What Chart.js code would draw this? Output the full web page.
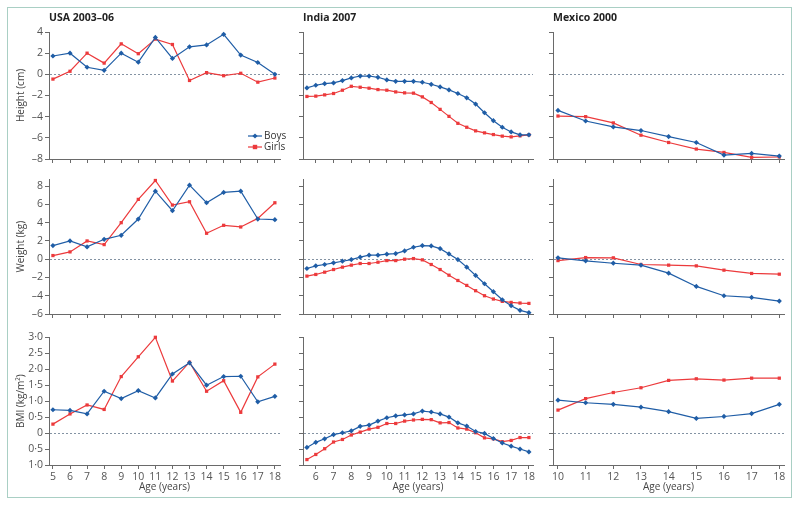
<!DOCTYPE html>
<html>
<head>
<meta charset="utf-8">
<script src="https://cdn.jsdelivr.net/npm/chart.js@4/dist/chart.umd.min.js"></script>
<style>
  html, body { margin: 0; padding: 0; background: #fff; }
  #wrap { position: relative; width: 800px; height: 506px; overflow: hidden; }
  #frame { position: absolute; left: 7px; top: 7px; width: 785px; height: 491px; border: 1px solid #a9cfc4; box-sizing: border-box; }
  canvas { position: absolute; }
</style>
</head>
<body>
<div id="wrap"><div id="frame"></div></div>
<script>
// ---------- DATA ----------
const usaAges = [5, 6, 7, 8, 9, 10, 11, 12, 13, 14, 15, 16, 17, 18];
const indiaAges = [5.5, 6, 6.5, 7, 7.5, 8, 8.5, 9, 9.5, 10, 10.5, 11, 11.5, 12, 12.5, 13, 13.5, 14, 14.5, 15, 15.5, 16, 16.5, 17, 17.5, 18];
const mexicoAges = [10, 11, 12, 13, 14, 15, 16, 17, 18];

const usaHeightBoys  = [1.73, 2.0, 0.67, 0.38, 2.0, 1.15, 3.49, 1.5, 2.6, 2.78, 3.78, 1.82, 1.12, 0];
const usaHeightGirls = [-0.45, 0.29, 2.0, 1.06, 2.88, 1.95, 3.33, 2.82, -0.58, 0.16, -0.13, 0.1, -0.74, -0.35];
const indiaHeightBoys  = [-1.28, -1.03, -0.88, -0.81, -0.59, -0.34, -0.16, -0.16, -0.28, -0.53, -0.66, -0.66, -0.66, -0.75, -0.94, -1.19, -1.47, -1.81, -2.22, -2.81, -3.63, -4.38, -5.0, -5.44, -5.72, -5.72];
const indiaHeightGirls = [-2.09, -2.06, -1.94, -1.81, -1.5, -1.13, -1.22, -1.31, -1.44, -1.5, -1.66, -1.75, -1.78, -2.13, -2.66, -3.31, -3.97, -4.63, -5.0, -5.34, -5.53, -5.69, -5.84, -5.91, -5.81, -5.72];
const mexicoHeightBoys  = [-3.41, -4.41, -4.97, -5.31, -5.88, -6.44, -7.63, -7.47, -7.72];
const mexicoHeightGirls = [-3.94, -4.0, -4.59, -5.75, -6.44, -7.06, -7.38, -7.84, -7.81];

const usaWeightBoys  = [1.49, 2.0, 1.35, 2.18, 2.62, 4.4, 7.45, 5.31, 8.11, 6.18, 7.31, 7.45, 4.4, 4.33];
const usaWeightGirls = [0.4, 0.8, 2.0, 1.6, 4.0, 6.55, 8.62, 5.93, 6.29, 2.84, 3.71, 3.53, 4.47, 6.18];
const indiaWeightBoys  = [-1.02, -0.73, -0.58, -0.4, -0.22, -0.04, 0.22, 0.44, 0.44, 0.55, 0.62, 0.91, 1.31, 1.49, 1.45, 1.16, 0.58, -0.04, -0.87, -1.78, -2.69, -3.56, -4.44, -5.09, -5.6, -5.85];
const indiaWeightGirls = [-1.85, -1.67, -1.42, -1.13, -0.87, -0.65, -0.47, -0.47, -0.33, -0.15, -0.15, 0, 0.07, -0.07, -0.58, -1.13, -1.75, -2.33, -2.87, -3.45, -4.0, -4.36, -4.62, -4.73, -4.8, -4.84];
const mexicoWeightBoys  = [0.15, -0.18, -0.44, -0.65, -1.53, -2.98, -4.0, -4.18, -4.58];
const mexicoWeightGirls = [-0.15, 0.18, 0.15, -0.58, -0.65, -0.73, -1.2, -1.56, -1.64];

const usaBmiBoys  = [0.73, 0.71, 0.6, 1.31, 1.08, 1.33, 1.1, 1.85, 2.2, 1.5, 1.77, 1.78, 0.98, 1.15];
const usaBmiGirls = [0.28, 0.6, 0.88, 0.74, 1.77, 2.39, 3.0, 1.63, 2.22, 1.31, 1.64, 0.65, 1.76, 2.16];
const indiaBmiBoys  = [-0.45, -0.29, -0.18, -0.05, 0.01, 0.07, 0.21, 0.25, 0.375, 0.48, 0.54, 0.57, 0.6, 0.69, 0.66, 0.6, 0.5, 0.32, 0.22, 0.05, -0.01, -0.17, -0.31, -0.41, -0.5, -0.59];
const indiaBmiGirls = [-0.83, -0.67, -0.49, -0.28, -0.2, -0.06, 0.03, 0.125, 0.18, 0.3, 0.3, 0.375, 0.41, 0.43, 0.42, 0.32, 0.33, 0.16, 0.125, 0.01, -0.15, -0.18, -0.27, -0.23, -0.14, -0.14];
const mexicoBmiBoys  = [1.03, 0.95, 0.9, 0.81, 0.67, 0.46, 0.52, 0.61, 0.9];
const mexicoBmiGirls = [0.72, 1.08, 1.27, 1.42, 1.65, 1.7, 1.66, 1.72, 1.72];

// tick values and labels
const usaAgeTicks = [5, 6, 7, 8, 9, 10, 11, 12, 13, 14, 15, 16, 17, 18];
const indiaAgeTicks = [6, 7, 8, 9, 10, 11, 12, 13, 14, 15, 16, 17, 18];
const mexicoAgeTicks = [10, 11, 12, 13, 14, 15, 16, 17, 18];
const heightTicks = [-8, -6, -4, -2, 0, 2, 4];
const heightTickLabels = ['–8', '–6', '–4', '–2', '0', '2', '4'];
const weightTicks = [-6, -4, -2, 0, 2, 4, 6, 8];
const weightTickLabels = ['–6', '–4', '–2', '0', '2', '4', '6', '8'];
const bmiTicks = [-1, -0.5, 0, 0.5, 1, 1.5, 2, 2.5, 3];
const bmiTickLabels = ['1·0', '0·5', '0', '0·5', '1·0', '1·5', '2·0', '2·5', '3·0'];

const countryTitles = ['USA 2003–06', 'India 2007', 'Mexico 2000'];
const rowTitles = ['Height (cm)', 'Weight (kg)', 'BMI (kg/m²)'];
const seriesNames = ['Boys', 'Girls'];

// ---------- STYLE / LAYOUT ----------
const BLUE = '#1f5da6';
const RED = '#ec3a3c';
const AXIS = '#6a6a6a';
const FONT = "'Open Sans', 'DejaVu Sans', sans-serif";

const cols = [
  { L: 49, R: 280, min: 4.77, max: 18.3, ticks: usaAgeTicks, ages: usaAges },
  { L: 303, R: 533, min: 5.28, max: 18.23, ticks: indiaAgeTicks, ages: indiaAges },
  { L: 553, R: 784, min: 9.82, max: 18.17, ticks: mexicoAgeTicks, ages: mexicoAges }
];
const rows = [
  { T: 32, B: 159, min: -8, max: 4, ticks: heightTicks, labels: heightTickLabels,
    data: [[usaHeightBoys, usaHeightGirls], [indiaHeightBoys, indiaHeightGirls], [mexicoHeightBoys, mexicoHeightGirls]] },
  { T: 179, B: 314, min: -6, max: 8.75, ticks: weightTicks, labels: weightTickLabels,
    data: [[usaWeightBoys, usaWeightGirls], [indiaWeightBoys, indiaWeightGirls], [mexicoWeightBoys, mexicoWeightGirls]] },
  { T: 337, B: 465, min: -1, max: 3, ticks: bmiTicks, labels: bmiTickLabels,
    data: [[usaBmiBoys, usaBmiGirls], [indiaBmiBoys, indiaBmiGirls], [mexicoBmiBoys, mexicoBmiGirls]] }
];

function drawDiamond(ctx, x, y, r, color) {
  ctx.fillStyle = color;
  ctx.beginPath();
  ctx.moveTo(x, y - r); ctx.lineTo(x + r, y); ctx.lineTo(x, y + r); ctx.lineTo(x - r, y);
  ctx.closePath(); ctx.fill();
}

const decorPlugin = {
  id: 'decor',
  beforeDatasetsDraw(chart, args, opts) {
    const ctx = chart.ctx, a = chart.chartArea;
    const y0 = chart.scales.y.getPixelForValue(0);
    ctx.save();
    ctx.strokeStyle = '#8493a3';
    ctx.lineWidth = 1;
    ctx.setLineDash([2, 2]);
    ctx.beginPath();
    ctx.moveTo(a.left + 1, Math.round(y0) + 0.5);
    ctx.lineTo(a.right, Math.round(y0) + 0.5);
    ctx.stroke();
    ctx.restore();
  },
  afterDraw(chart, args, opts) {
    const ctx = chart.ctx, a = chart.chartArea;
    ctx.save();
    if (opts.title) {
      ctx.font = "bold 10.5px " + FONT;
      ctx.fillStyle = '#222';
      ctx.textAlign = 'left';
      ctx.textBaseline = 'middle';
      ctx.fillText(opts.title, a.left, a.top - 14);
    }
    if (opts.legend) {
      const items = [{ name: seriesNames[0], color: BLUE, shape: 'd' }, { name: seriesNames[1], color: RED, shape: 's' }];
      items.forEach((it, i) => {
        const y = a.bottom - 23 + i * 11;
        const x1 = a.right - 32, x2 = a.right - 18;
        ctx.strokeStyle = it.color; ctx.lineWidth = 1.2;
        ctx.beginPath(); ctx.moveTo(x1, y); ctx.lineTo(x2, y); ctx.stroke();
        const cx = (x1 + x2) / 2;
        if (it.shape === 'd') drawDiamond(ctx, cx, y, 2.6, it.color);
        else { ctx.fillStyle = it.color; ctx.fillRect(cx - 2.2, y - 2.2, 4.4, 4.4); }
        ctx.fillStyle = '#333';
        ctx.font = "10px " + FONT;
        ctx.textAlign = 'left'; ctx.textBaseline = 'middle';
        ctx.fillText(it.name, a.right - 16, y);
      });
    }
    ctx.restore();
  }
};

const wrap = document.getElementById('wrap');

rows.forEach((row, ri) => {
  cols.forEach((col, ci) => {
    const YW = ci === 0 ? 49 : 12;
    const PR = 8;
    const PT = ri === 0 ? 24 : 8;
    const XH = ri === 2 ? 40 : 10;
    const left = col.L - YW;
    const top = row.T - PT;
    const width = col.R - col.L + YW + PR;
    const height = row.B - row.T + PT + XH;
    const cv = document.createElement('canvas');
    cv.width = width; cv.height = height;
    cv.style.left = left + 'px'; cv.style.top = top + 'px';
    cv.style.width = width + 'px'; cv.style.height = height + 'px';
    wrap.appendChild(cv);

    const [boys, girls] = row.data[ci];
    const showYLabels = ci === 0;
    const showXLabels = ri === 2;

    new Chart(cv, {
      type: 'line',
      data: {
        datasets: [
          {
            label: seriesNames[0],
            data: col.ages.map((a, i) => ({ x: a, y: boys[i] })),
            borderColor: BLUE, backgroundColor: BLUE,
            borderWidth: 1.2, pointStyle: 'rectRot', pointRadius: 2.6,
            pointBorderWidth: 0, pointHoverRadius: 2.6, tension: 0, clip: false
          },
          {
            label: seriesNames[1],
            data: col.ages.map((a, i) => ({ x: a, y: girls[i] })),
            borderColor: RED, backgroundColor: RED,
            borderWidth: 1.2, pointStyle: 'rect', pointRadius: 2.3,
            pointBorderWidth: 0, pointHoverRadius: 2.3, tension: 0, clip: false
          }
        ]
      },
      options: {
        responsive: false,
        animation: false,
        devicePixelRatio: 1,
        layout: { padding: { top: PT, right: PR, left: 0, bottom: 0 } },
        plugins: {
          legend: { display: false },
          tooltip: { enabled: false },
          decor: { title: ri === 0 ? countryTitles[ci] : null, legend: ri === 0 && ci === 0 }
        },
        scales: {
          x: {
            type: 'linear',
            min: col.min, max: col.max,
            afterFit(s) { s.height = XH; },
            afterBuildTicks(s) { s.ticks = col.ticks.map(v => ({ value: v })); },
            grid: { display: true, drawOnChartArea: false, drawTicks: true, tickLength: 4, tickColor: AXIS, tickWidth: 1 },
            border: { display: true, color: AXIS, width: 1 },
            ticks: {
              padding: 2, color: '#555', font: { family: FONT, size: 10.5 },
              maxRotation: 0, autoSkip: false,
              callback: (v) => showXLabels ? String(v) : ''
            },
            title: {
              display: showXLabels, text: 'Age (years)', color: '#444',
              font: { family: FONT, size: 10 }, padding: { top: 0, bottom: 12 }
            }
          },
          y: {
            type: 'linear',
            min: row.min, max: row.max,
            afterFit(s) { s.width = YW; },
            afterBuildTicks(s) { s.ticks = row.ticks.map(v => ({ value: v })); },
            grid: { display: true, drawOnChartArea: false, drawTicks: true, tickLength: 4, tickColor: AXIS, tickWidth: 1 },
            border: { display: true, color: AXIS, width: 1 },
            ticks: {
              padding: 2, color: '#555', font: { family: FONT, size: 10.5 }, autoSkip: false,
              callback: (v) => {
                if (!showYLabels) return '';
                const idx = row.ticks.indexOf(v);
                return idx >= 0 ? row.labels[idx] : '';
              }
            },
            title: {
              display: showYLabels, text: rowTitles[ri], color: '#444',
              font: { family: FONT, size: 10 }, padding: { top: 15, bottom: 0 }
            }
          }
        }
      },
      plugins: [decorPlugin]
    });
  });
});
</script>
</body>
</html>
